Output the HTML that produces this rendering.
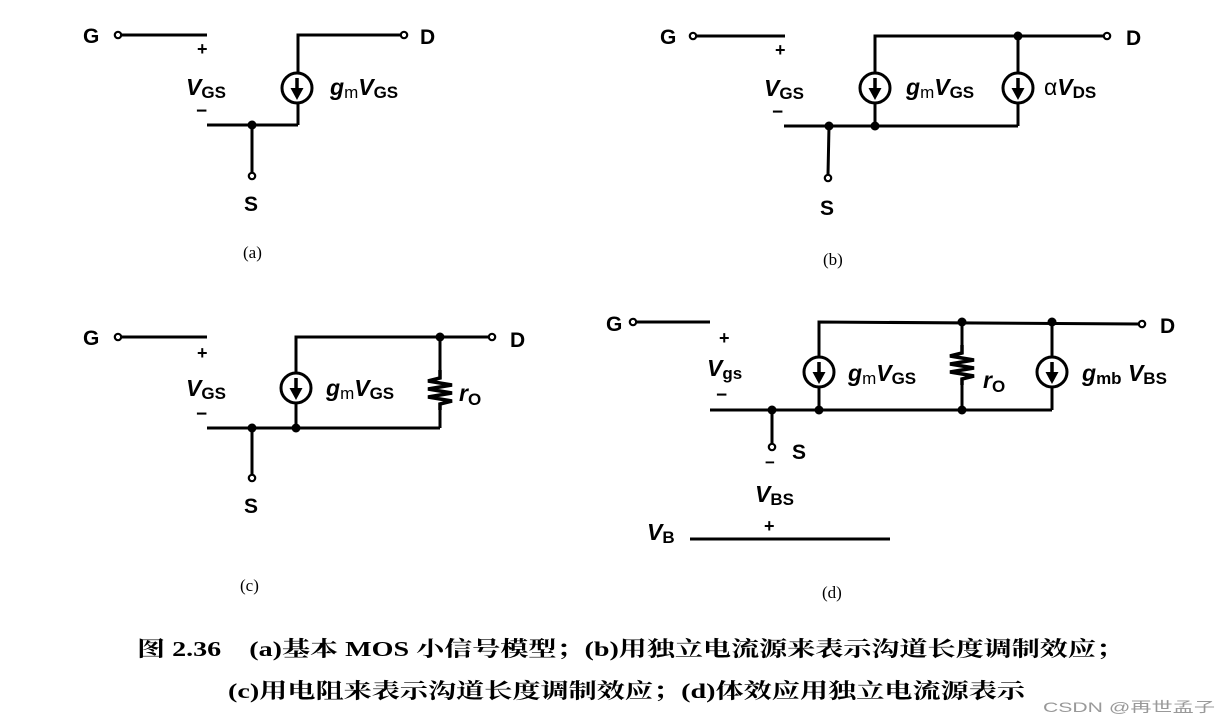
<!DOCTYPE html>
<html><head><meta charset="utf-8"><style>
html,body{margin:0;padding:0;background:#fff;}
svg{display:block}
.l{font-family:"Liberation Sans",Arial,sans-serif;font-weight:bold;fill:#000}
.v{font-family:"Liberation Sans",Arial,sans-serif;font-weight:bold;font-style:italic;fill:#000}
.cap{font-family:"Liberation Serif","Noto Serif CJK SC",serif;fill:#000}
</style></head><body>
<svg width="1228" height="722" viewBox="0 0 1228 722" xmlns="http://www.w3.org/2000/svg">
<defs>
<g id="src">
<circle cx="0" cy="0" r="15" fill="#fff" stroke="#000" stroke-width="3"/>
<line x1="0" y1="-10" x2="0" y2="2" stroke="#000" stroke-width="3.5"/>
<polygon points="-6.5,0 6.5,0 0,12" fill="#000"/>
</g>
<g id="res">
<polyline points="0,0 0,8 -12,11 12,15 -12,19 12,23 -12,27 12,31 0,34 0,40" fill="none" stroke="#000" stroke-width="3.5"/>
</g>
</defs>
<g stroke="#000" stroke-width="3" fill="none">
<!-- (a) -->
<line x1="121" y1="35" x2="207" y2="35"/>
<line x1="207" y1="125" x2="298" y2="125"/>
<line x1="252" y1="125" x2="252" y2="173"/>
<polyline points="298,125 298,35 401,35"/>
<circle cx="118" cy="35" r="3.2" stroke-width="2.2"/>
<circle cx="404" cy="35" r="3.2" stroke-width="2.2"/>
<circle cx="252" cy="176" r="3.2" stroke-width="2.2"/>
<!-- (b) -->
<line x1="696" y1="36" x2="785" y2="36"/>
<line x1="784" y1="126" x2="1018" y2="126"/>
<line x1="829" y1="126" x2="828" y2="175"/>
<polyline points="875,126 875,36 1104,36"/>
<line x1="1018" y1="36" x2="1018" y2="126"/>
<circle cx="693" cy="36" r="3.2" stroke-width="2.2"/>
<circle cx="1107" cy="36" r="3.2" stroke-width="2.2"/>
<circle cx="828" cy="178" r="3.2" stroke-width="2.2"/>
<!-- (c) -->
<line x1="121" y1="337" x2="207" y2="337"/>
<line x1="207" y1="428" x2="440" y2="428"/>
<line x1="252" y1="428" x2="252" y2="475"/>
<polyline points="296,428 296,337 489,337"/>
<line x1="440" y1="337" x2="440" y2="370"/>
<line x1="440" y1="410" x2="440" y2="428"/>
<circle cx="118" cy="337" r="3.2" stroke-width="2.2"/>
<circle cx="492" cy="337" r="3.2" stroke-width="2.2"/>
<circle cx="252" cy="478" r="3.2" stroke-width="2.2"/>
<!-- (d) -->
<line x1="636" y1="322" x2="710" y2="322"/>
<line x1="710" y1="410" x2="1052" y2="410"/>
<line x1="772" y1="410" x2="772" y2="444"/>
<polyline points="819,410 819,322 1139,324"/>
<line x1="962" y1="322" x2="962" y2="345"/>
<line x1="962" y1="385" x2="962" y2="410"/>
<line x1="1052" y1="322" x2="1052" y2="410"/>
<line x1="690" y1="539" x2="890" y2="539"/>
<circle cx="633" cy="322" r="3.2" stroke-width="2.2"/>
<circle cx="1142" cy="324" r="3.2" stroke-width="2.2"/>
<circle cx="772" cy="447" r="3.2" stroke-width="2.2"/>
</g>
<g fill="#000">
<circle cx="252" cy="125" r="4.5"/>
<circle cx="829" cy="126" r="4.5"/><circle cx="875" cy="126" r="4.5"/><circle cx="1018" cy="36" r="4.5"/>
<circle cx="252" cy="428" r="4.5"/><circle cx="296" cy="428" r="4.5"/><circle cx="440" cy="337" r="4.5"/>
<circle cx="772" cy="410" r="4.5"/><circle cx="819" cy="410" r="4.5"/><circle cx="962" cy="410" r="4.5"/><circle cx="962" cy="322" r="4.5"/><circle cx="1052" cy="322" r="4.5"/>
</g>
<use href="#src" x="297" y="88"/>
<use href="#src" x="875" y="88"/>
<use href="#src" x="1018" y="88"/>
<use href="#src" x="296" y="388"/>
<use href="#src" x="819" y="372"/>
<use href="#src" x="1052" y="372"/>
<use href="#res" x="440" y="370"/>
<use href="#res" x="962" y="345"/>

<!-- labels (a) -->
<text class="l" x="83" y="43" font-size="21">G</text>
<text class="l" x="420" y="44" font-size="21">D</text>
<text class="l" x="197" y="55" font-size="18">+</text>
<text class="v" x="186" y="95" font-size="23">V<tspan class="l" font-style="normal" font-size="17" dy="3">GS</tspan></text>
<text class="l" x="196" y="117" font-size="19">−</text>
<text class="l" x="244" y="211" font-size="21">S</text>
<text class="v" x="330" y="95" font-size="23">g<tspan font-style="normal" font-weight="normal" font-size="17" dy="3">m</tspan><tspan dy="-3">V</tspan><tspan class="l" font-style="normal" font-size="17" dy="3">GS</tspan></text>
<text class="cap" x="243" y="258" font-size="17">(a)</text>
<!-- (b) -->
<text class="l" x="660" y="44" font-size="21">G</text>
<text class="l" x="1126" y="45" font-size="21">D</text>
<text class="l" x="775" y="56" font-size="18">+</text>
<text class="v" x="764" y="96" font-size="23">V<tspan class="l" font-style="normal" font-size="17" dy="3">GS</tspan></text>
<text class="l" x="772" y="118" font-size="19">−</text>
<text class="l" x="820" y="215" font-size="21">S</text>
<text class="v" x="906" y="95" font-size="23">g<tspan font-style="normal" font-weight="normal" font-size="17" dy="3">m</tspan><tspan dy="-3">V</tspan><tspan class="l" font-style="normal" font-size="17" dy="3">GS</tspan></text>
<text class="v" x="1044" y="95" font-size="23"><tspan font-weight="normal" font-style="normal">α</tspan>V<tspan class="l" font-style="normal" font-size="17" dy="3">DS</tspan></text>
<text class="cap" x="823" y="265" font-size="17">(b)</text>
<!-- (c) -->
<text class="l" x="83" y="345" font-size="21">G</text>
<text class="l" x="510" y="347" font-size="21">D</text>
<text class="l" x="197" y="359" font-size="18">+</text>
<text class="v" x="186" y="396" font-size="23">V<tspan class="l" font-style="normal" font-size="17" dy="3">GS</tspan></text>
<text class="l" x="196" y="420" font-size="19">−</text>
<text class="l" x="244" y="513" font-size="21">S</text>
<text class="v" x="326" y="396" font-size="23">g<tspan font-style="normal" font-weight="normal" font-size="17" dy="3">m</tspan><tspan dy="-3">V</tspan><tspan class="l" font-style="normal" font-size="17" dy="3">GS</tspan></text>
<text class="v" x="459" y="401" font-size="23">r<tspan class="l" font-style="normal" font-size="17" dy="4">O</tspan></text>
<text class="cap" x="240" y="591" font-size="17">(c)</text>
<!-- (d) -->
<text class="l" x="606" y="331" font-size="21">G</text>
<text class="l" x="1160" y="333" font-size="21">D</text>
<text class="l" x="719" y="344" font-size="18">+</text>
<text class="v" x="707" y="376" font-size="23">V<tspan class="l" font-style="normal" font-size="17" dy="3">gs</tspan></text>
<text class="l" x="716" y="401" font-size="19">−</text>
<text class="l" x="792" y="459" font-size="21">S</text>
<text class="l" x="765" y="468" font-size="17">−</text>
<text class="v" x="755" y="502" font-size="23">V<tspan class="l" font-style="normal" font-size="17" dy="3">BS</tspan></text>
<text class="l" x="764" y="532" font-size="18">+</text>
<text class="v" x="647" y="540" font-size="23">V<tspan class="l" font-style="normal" font-size="17" dy="3">B</tspan></text>
<text class="v" x="848" y="381" font-size="23">g<tspan font-style="normal" font-weight="normal" font-size="17" dy="3">m</tspan><tspan dy="-3">V</tspan><tspan class="l" font-style="normal" font-size="17" dy="3">GS</tspan></text>
<text class="v" x="983" y="388" font-size="23">r<tspan class="l" font-style="normal" font-size="17" dy="4">O</tspan></text>
<text class="v" x="1082" y="381" font-size="23">g<tspan class="l" font-style="normal" font-size="17" dy="3">mb</tspan><tspan dy="-3"> V</tspan><tspan class="l" font-style="normal" font-size="17" dy="3">BS</tspan></text>
<text class="cap" x="822" y="598" font-size="17">(d)</text>
<!-- caption -->
<text class="cap" x="137" y="656" font-size="21" font-weight="bold" textLength="987" lengthAdjust="spacingAndGlyphs">图 2.36　(a)基本 MOS 小信号模型；(b)用独立电流源来表示沟道长度调制效应；</text>
<text class="cap" x="228" y="698" font-size="21" font-weight="bold" textLength="797" lengthAdjust="spacingAndGlyphs">(c)用电阻来表示沟道长度调制效应；(d)体效应用独立电流源表示</text>
<text x="1043" y="712" font-size="14" fill="#999" font-family="Liberation Sans,Noto Sans CJK SC,sans-serif" textLength="172" lengthAdjust="spacingAndGlyphs">CSDN @再世孟子</text>
</svg>
</body></html>
